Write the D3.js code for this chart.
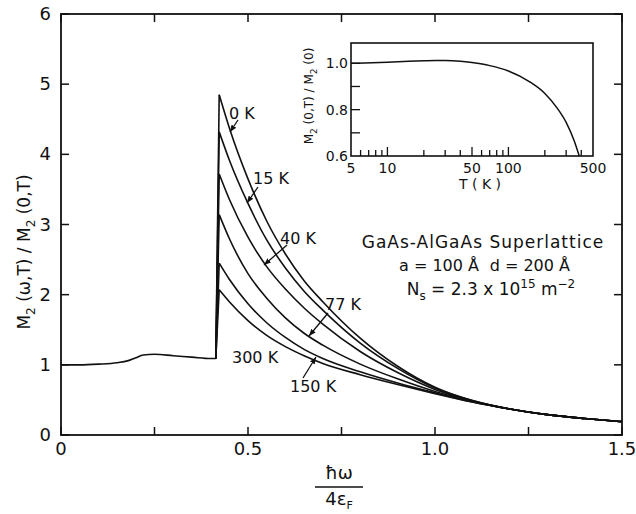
<!DOCTYPE html>
<html><head><meta charset="utf-8">
<script src="https://cdn.jsdelivr.net/npm/d3@7"></script>
<style>body{margin:0;background:#fff}svg{display:block}text{font-family:"DejaVu Sans",Verdana,sans-serif;fill:#111}</style>
</head><body><svg id="c" width="636" height="514"></svg>
<script>
// ---- data ----
const baseX = [0, 0.05, 0.1, 0.15, 0.18, 0.2, 0.22, 0.25, 0.3, 0.35, 0.4, 0.414];
const baseY = [1.0, 1.0, 1.01, 1.03, 1.06, 1.1, 1.14, 1.15, 1.13, 1.11, 1.09, 1.09];
const decayX = [0.423, 0.45, 0.5, 0.55, 0.6, 0.65, 0.7, 0.8, 0.9, 1.0, 1.1, 1.2, 1.3, 1.4, 1.5];
const temps = ["0 K", "15 K", "40 K", "77 K", "150 K", "300 K"];
const y0K   = [4.85, 4.38, 3.65, 3.05, 2.58, 2.20, 1.90, 1.38, 0.98, 0.68, 0.49, 0.37, 0.29, 0.235, 0.19];
const y15K  = [4.32, 3.92, 3.30, 2.78, 2.38, 2.05, 1.78, 1.31, 0.95, 0.67, 0.49, 0.37, 0.29, 0.235, 0.19];
const y40K  = [3.72, 3.36, 2.82, 2.40, 2.08, 1.81, 1.58, 1.19, 0.89, 0.65, 0.48, 0.37, 0.29, 0.235, 0.19];
const y77K  = [3.14, 2.80, 2.30, 1.95, 1.67, 1.45, 1.28, 1.01, 0.80, 0.62, 0.48, 0.37, 0.29, 0.235, 0.19];
const y150K = [2.45, 2.22, 1.87, 1.60, 1.39, 1.22, 1.09, 0.90, 0.74, 0.60, 0.47, 0.37, 0.29, 0.235, 0.19];
const y300K = [2.07, 1.90, 1.63, 1.42, 1.26, 1.13, 1.02, 0.86, 0.72, 0.59, 0.47, 0.37, 0.29, 0.235, 0.19];
const xTicks = [0, 0.25, 0.5, 0.75, 1.0, 1.25, 1.5];
const xTickLabels = ["0", "", "0.5", "", "1.0", "", "1.5"];
const yTicks = [0, 1, 2, 3, 4, 5, 6];
// inset
const insetT = [5, 10, 15, 20, 25, 30, 40, 50, 70, 100, 150, 200, 250, 300, 350, 385];
const insetM = [1.0, 1.005, 1.009, 1.011, 1.012, 1.012, 1.009, 1.003, 0.99, 0.967, 0.92, 0.87, 0.81, 0.745, 0.665, 0.6];
const insetXTicks = [6, 7, 8, 9, 10, 20, 30, 40, 50, 60, 70, 80, 90, 100, 200, 300, 400];
const insetXMajor = [10, 50, 100];
const insetXLabels = [5, 10, 50, 100, 500];
const insetYTicks = [0.7, 0.8, 0.9, 1.0];
const insetYLabels = [0.6, 0.8, 1.0];

const svg = d3.select("#c");
const L = 61, R = 622, T = 14, B = 435;
const x = d3.scaleLinear().domain([0, 1.5]).range([L, R]);
const y = d3.scaleLinear().domain([0, 6]).range([B, T]);

svg.append("defs").append("marker").attr("id", "ah").attr("viewBox", "0 0 10 10")
  .attr("refX", 10).attr("refY", 5).attr("markerWidth", 7).attr("markerHeight", 7)
  .attr("orient", "auto").attr("markerUnits", "userSpaceOnUse")
  .append("path").attr("d", "M0,1L10,5L0,9Z").attr("fill", "#111");

const g = svg.append("g");
g.append("rect").attr("x", L).attr("y", T).attr("width", R - L).attr("height", B - T)
  .attr("fill", "none").attr("stroke", "#111").attr("stroke-width", 1.8);
const tk = 8;
xTicks.forEach(v => {
  g.append("line").attr("x1", x(v)).attr("x2", x(v)).attr("y1", B).attr("y2", B - tk).attr("stroke", "#111").attr("stroke-width", 1.5);
  g.append("line").attr("x1", x(v)).attr("x2", x(v)).attr("y1", T).attr("y2", T + tk).attr("stroke", "#111").attr("stroke-width", 1.5);
});
yTicks.forEach(v => {
  g.append("line").attr("x1", L).attr("x2", L + tk).attr("y1", y(v)).attr("y2", y(v)).attr("stroke", "#111").attr("stroke-width", 1.5);
  g.append("line").attr("x1", R).attr("x2", R - tk).attr("y1", y(v)).attr("y2", y(v)).attr("stroke", "#111").attr("stroke-width", 1.5);
});
xTicks.forEach((v, i) => {
  g.append("text").attr("x", x(v)).attr("y", B + 20).attr("text-anchor", "middle").attr("font-size", 18).text(xTickLabels[i]);
});
yTicks.forEach(v => {
  g.append("text").attr("x", L - 10).attr("y", y(v) + 6).attr("text-anchor", "end").attr("font-size", 18).text(String(v));
});

const line = d3.line().x(d => x(d[0])).y(d => y(d[1])).curve(d3.curveMonotoneX);
g.append("path").attr("d", line(baseX.map((v, i) => [v, baseY[i]]))).attr("fill", "none").attr("stroke", "#111").attr("stroke-width", 1.6);
const series = [y0K, y15K, y40K, y77K, y150K, y300K];
const jumpStart = [baseX[baseX.length - 1], baseY[baseY.length - 1]];
series.forEach(s => {
  const pts = [jumpStart].concat(decayX.map((v, i) => [v, s[i]]));
  g.append("path").attr("d", d3.line().x(d => x(d[0])).y(d => y(d[1]))(pts.slice(0, 2)))
    .attr("fill", "none").attr("stroke", "#111").attr("stroke-width", 1.6);
  g.append("path").attr("d", line(pts.slice(1))).attr("fill", "none").attr("stroke", "#111").attr("stroke-width", 1.6);
});

const ann = [
  {t: temps[0], tx: 229, ty: 119, a: [238, 120, 230, 132]},
  {t: temps[1], tx: 253, ty: 184, a: [258, 187, 247, 203]},
  {t: temps[2], tx: 280, ty: 244, a: [287, 245, 264, 265]},
  {t: temps[3], tx: 325, ty: 310, a: [328, 313, 309, 336]},
  {t: temps[4], tx: 290, ty: 392, a: [303, 378, 316, 357]},
  {t: temps[5], tx: 232, ty: 363, a: null}
];
ann.forEach(d => {
  g.append("text").attr("x", d.tx).attr("y", d.ty).attr("font-size", 16).text(d.t);
  if (d.a) g.append("line").attr("x1", d.a[0]).attr("y1", d.a[1]).attr("x2", d.a[2]).attr("y2", d.a[3])
    .attr("stroke", "#111").attr("stroke-width", 1.3).attr("marker-end", "url(#ah)");
});

const tb = g.append("g").attr("font-size", 17);
tb.append("text").attr("x", 483).attr("y", 248).attr("text-anchor", "middle").attr("letter-spacing", 1).text("GaAs-AlGaAs Superlattice");
tb.append("text").attr("x", 399).attr("y", 271).attr("font-size", 16).text("a = 100 Å");
tb.append("text").attr("x", 570).attr("y", 271).attr("font-size", 16).attr("text-anchor", "end").text("d = 200 Å");
const ns = tb.append("text").attr("x", 491).attr("y", 295).attr("text-anchor", "middle");
ns.append("tspan").text("N");
ns.append("tspan").attr("font-size", 12).attr("dy", 5).text("s");
ns.append("tspan").attr("dy", -5).text(" = 2.3 x 10");
ns.append("tspan").attr("font-size", 12).attr("dy", -7).text("15");
ns.append("tspan").attr("dy", 7).text(" m");
ns.append("tspan").attr("font-size", 12).attr("dy", -7).text("−2");

const yl = g.append("text").attr("transform", "translate(30,252) rotate(-90)").attr("text-anchor", "middle").attr("font-size", 17);
yl.append("tspan").text("M");
yl.append("tspan").attr("font-size", 12).attr("dy", 5).text("2");
yl.append("tspan").attr("dy", -5).text(" (ω,T) / M");
yl.append("tspan").attr("font-size", 12).attr("dy", 5).text("2");
yl.append("tspan").attr("dy", -5).text(" (0,T)");

const fx = 339;
g.append("text").attr("x", fx).attr("y", 479).attr("text-anchor", "middle").attr("font-size", 18).text("ħω");
g.append("line").attr("x1", fx - 24).attr("x2", fx + 24).attr("y1", 487).attr("y2", 487).attr("stroke", "#111").attr("stroke-width", 1.5);
const fd = g.append("text").attr("x", fx).attr("y", 505).attr("text-anchor", "middle").attr("font-size", 18);
fd.append("tspan").text("4ε");
fd.append("tspan").attr("font-size", 11).attr("dy", 4).text("F");

// ---- inset ----
const iL = 351, iR = 593, iT = 43, iB = 156;
const ix = d3.scaleLog().domain([5, 500]).range([iL, iR]);
const iy = d3.scaleLinear().domain([0.6, 1.0]).range([iB, 63.3]);
const ig = svg.append("g");
ig.append("rect").attr("x", iL).attr("y", iT).attr("width", iR - iL).attr("height", iB - iT)
  .attr("fill", "#fff").attr("stroke", "#111").attr("stroke-width", 1.6);
insetXTicks.forEach(v => {
  const h = insetXMajor.includes(v) ? 9 : 6;
  ig.append("line").attr("x1", ix(v)).attr("x2", ix(v)).attr("y1", iB).attr("y2", iB - h).attr("stroke", "#111").attr("stroke-width", 1.3);
});
insetYTicks.forEach(v => {
  ig.append("line").attr("x1", iL).attr("x2", iL + 9).attr("y1", iy(v)).attr("y2", iy(v)).attr("stroke", "#111").attr("stroke-width", 1.3);
});
insetXLabels.forEach(v => {
  ig.append("text").attr("x", ix(v)).attr("y", iB + 17).attr("text-anchor", "middle").attr("font-size", 14).text(String(v));
});
insetYLabels.forEach(v => {
  ig.append("text").attr("x", iL - 3).attr("y", iy(v) + 5).attr("text-anchor", "end").attr("font-size", 14).text(v.toFixed(1));
});
ig.append("path").attr("d", d3.line().x(d => ix(d[0])).y(d => iy(d[1])).curve(d3.curveMonotoneX)(insetT.map((v, i) => [v, insetM[i]])))
  .attr("fill", "none").attr("stroke", "#111").attr("stroke-width", 1.5);
ig.append("text").attr("x", 480).attr("y", 189).attr("text-anchor", "middle").attr("font-size", 14).text("T ( K )");
const il = ig.append("text").attr("transform", "translate(313,96) rotate(-90)").attr("text-anchor", "middle").attr("font-size", 12);
il.append("tspan").text("M");
il.append("tspan").attr("font-size", 9).attr("dy", 4).text("2");
il.append("tspan").attr("dy", -4).text(" (0,T) / M");
il.append("tspan").attr("font-size", 9).attr("dy", 4).text("2");
il.append("tspan").attr("dy", -4).text(" (0)");
</script></body></html>
